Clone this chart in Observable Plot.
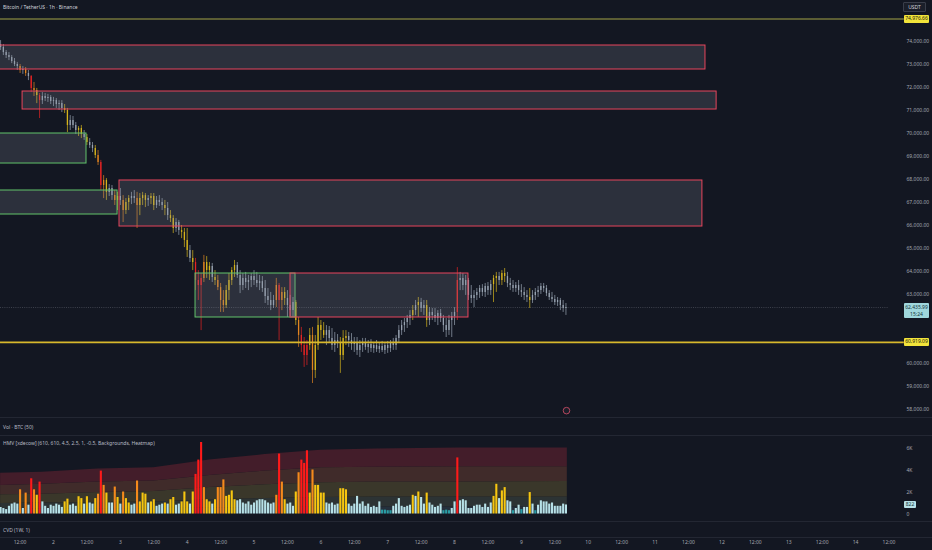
<!DOCTYPE html>
<html><head><meta charset="utf-8">
<script src="https://cdn.jsdelivr.net/npm/d3@7"></script>
<script src="https://cdn.jsdelivr.net/npm/@observablehq/plot@0.6"></script>
<style>
body{margin:0;background:#131722;}
#wrap{position:relative;width:932px;height:550px;background:#131722;overflow:hidden;font-family:"Noto Sans",Roboto,sans-serif;}
.pane{position:absolute;left:0;}
.lbl{position:absolute;font-size:5px;color:#b8bbc4;white-space:nowrap;line-height:1;}
.tag{position:absolute;font-size:5px;line-height:1;white-space:nowrap;text-align:center;border-radius:1px;}
.sep{position:absolute;left:0;width:932px;height:1px;background:#232733;}
</style></head><body><div id="wrap"></div>
<script>
// ---------- DATA ----------
const startHour = 5; // first visible hourly candle (hours since day 1 00:00)
const open = [73870,73740,73520,73390,73300,
73130,73000,72910,72740,72780,72610,72480,71960,71870,71650,
71430,71610,71520,71570,71390,71430,71260,71300,71090,71000,
70350,70570,70350,70130,70220,69960,69830,69610,69480,69350,
69040,68740,67740,67960,67440,67610,67300,67090,67260,67090,
66650,67000,67170,67260,67170,66870,67170,67300,67090,67170,
67260,66870,67090,67000,66870,66740,66430,66300,65870,66130,
65780,65700,65350,64910,64570,64390,63610,63390,63700,64390,
64040,64220,63740,63610,63300,62740,62520,63170,63610,64040,
64260,63830,63390,63700,63520,63610,63780,63610,63480,63560,
63260,62910,62740,62520,62740,63390,62740,63090,62830,62520,
62300,62650,61870,61220,60780,60350,60780,61220,59700,60780,
61650,61430,61220,61430,61090,60780,61000,60870,60350,61090,
61170,61000,60830,60910,60570,60780,60910,60700,60830,60650,
60780,60610,60740,60570,60780,60650,60870,60780,61090,61430,
61650,61780,61960,62090,62300,62520,62650,62390,62520,61870,
62220,62090,61960,62170,61960,61650,61430,61870,62040,62220,
63610,63700,63390,63610,62960,62830,62960,63090,63260,63090,
63350,63170,63430,63700,63780,63610,63910,63780,63480,63390,
63260,63390,63170,63090,62960,62870,62740,62960,63090,63170,
63350,63260,63040,62870,62780,62650,62740,62520,62390];
const high = [74040,73870,73610,73520,73390,
73260,73090,73000,72910,72870,72740,72520,72220,71960,71740,
71780,71740,71700,71650,71570,71520,71430,71430,71260,71090,
70780,70740,70480,70300,70350,70130,69960,69780,69610,69480,
69260,68830,68170,68040,67780,67740,67520,67440,67610,67300,
67170,67300,67440,67520,67440,67390,67440,67390,67300,67390,
67390,67260,67300,67170,67090,67000,66650,66430,66300,66220,
66000,65870,65870,65130,64910,64570,64040,63910,64700,64650,
64390,64350,64040,63830,63480,63170,63390,63910,64170,64480,
64390,64040,63910,63960,63830,63910,64040,63960,63830,63780,
63610,63260,63090,62960,63700,63480,63300,63300,63170,62960,
62870,62740,62000,61570,61130,61000,61520,61570,61220,62000,
61870,61780,61650,61610,61520,61350,61260,61130,61430,61430,
61350,61300,61130,61130,61000,61090,61090,61000,61040,60910,
61000,60870,60960,60910,60960,61000,61090,61220,61650,61870,
61960,62090,62300,62520,62740,62870,62830,62740,62740,62430,
62390,62390,62300,62350,62090,61960,62090,62220,62430,64170,
63960,63910,63830,63700,63390,63170,63260,63390,63430,63480,
63520,63610,63830,63960,63960,64040,64130,63960,63700,63610,
63520,63610,63430,63300,63170,63260,63170,63260,63350,63480,
63480,63390,63170,63090,62960,62870,62830,62740,62610];
const low = [73610,73390,73260,73170,73040,
72910,72740,72610,72570,72480,72300,71780,71610,71300,70650,
71260,71390,71350,71260,71170,71090,71000,70910,70870,70040,
70130,70220,69960,69870,69780,69700,69480,69350,69170,68910,
68610,67520,67170,67090,67260,67090,66870,66650,66870,66130,
66480,66650,66910,66960,65870,66430,66870,66780,66830,66910,
66650,66740,66830,66650,66430,66220,66130,65650,65700,65570,
65430,65040,64610,64390,64040,63170,62740,61430,63520,63700,
63610,63520,63390,63170,62220,62220,62390,62740,63390,63740,
63700,63040,63170,63260,63170,63300,63390,63300,63170,63090,
62610,62520,62300,62390,62430,61000,62300,62520,62000,62040,
62000,61650,60700,60480,59830,59910,60570,59130,59350,60570,
61000,61090,60780,60910,60570,60480,60650,59570,60130,60780,
60700,60570,60480,60350,60260,60480,60570,60440,60480,60440,
60480,60440,60480,60390,60440,60480,60570,60570,60910,61220,
61350,61520,61650,61870,62090,62000,62220,62090,61570,61650,
61870,61780,61650,61780,61350,61130,61220,61130,61650,61870,
63170,63170,62960,62740,62610,62430,62740,62830,62910,62870,
62960,62960,62650,63090,63390,63390,63520,63300,63170,63090,
63090,62960,62870,62740,62650,62390,62610,62740,62870,63000,
63090,62910,62740,62650,62520,62480,62300,62220,62090];
const close = [73740,73520,73390,73300,73130,
73000,72910,72740,72780,72610,72480,71960,71870,71650,71430,
71610,71520,71570,71390,71430,71260,71300,71090,71000,70350,
70570,70350,70130,70220,69960,69830,69610,69480,69350,69040,
68740,67740,67960,67440,67610,67300,67090,67260,67090,66650,
67000,67170,67260,67170,66870,67170,67300,67090,67170,67260,
66870,67090,67000,66870,66740,66430,66300,65870,66130,65780,
65700,65350,64910,64570,64390,63610,63390,63700,64390,64040,
64220,63740,63610,63300,62740,62520,63170,63610,64040,64260,
63830,63390,63700,63520,63610,63780,63610,63480,63560,63260,
62910,62740,62520,62740,63390,62740,63090,62830,62520,62300,
62650,61870,61220,60780,60350,60780,61220,59700,60780,61650,
61430,61220,61430,61090,60780,61000,60870,60350,61090,61170,
61000,60830,60910,60570,60780,60910,60700,60830,60650,60780,
60610,60740,60570,60780,60650,60870,60780,61090,61430,61650,
61780,61960,62090,62300,62520,62650,62390,62520,61870,62220,
62090,61960,62170,61960,61650,61430,61870,62040,62220,63610,
63700,63390,63610,62960,62830,62960,63090,63260,63090,63350,
63170,63430,63700,63780,63610,63910,63780,63480,63390,63260,
63390,63170,63090,62960,62870,62740,62960,63090,63170,63350,
63260,63040,62870,62780,62650,62740,62520,62390,62435.99];
const volume = [600,500,400,700,900,
1000,900,2200,500,1900,800,3200,2200,1700,2900,
1100,700,500,800,700,900,800,600,1100,1350,
800,900,700,1570,1400,900,1570,1000,900,1400,
1800,3900,2600,1900,1000,1000,2450,1500,900,2000,
1400,1000,800,900,3000,1100,1900,1800,1000,1100,
1300,700,800,900,1000,900,1300,1500,800,900,
1100,2000,1100,900,2000,3600,4900,6500,2400,1300,
1100,900,1300,2400,2400,3100,1600,1700,2100,1300,
1200,1300,1000,900,1100,800,1000,1200,1300,1300,
1200,1000,900,1000,1700,5450,2900,1300,900,1000,
700,2000,3750,4900,4600,5750,1900,4000,2600,2600,
1900,1900,1000,900,1000,800,900,2300,2300,2200,
900,700,900,1600,900,1100,700,900,600,700,
600,1100,350,350,300,300,700,900,1400,700,
600,700,800,1700,1600,2000,1500,900,1900,1000,
800,600,700,900,300,350,300,500,1100,5100,
1200,1300,1200,500,500,700,800,800,600,900,
600,1000,1600,2700,1400,2100,2400,1200,1100,300,
500,800,400,600,600,1950,900,300,800,1200,
1100,1100,900,1000,700,700,700,900,822];
// heatmap class per bar: L low, N normal, M medium, H high, X extra high
const volClass = "NNNNNNNHNHNXHMX" + "NNNNNNNNMM" +
 "NNNMMNMNNM" + "HXHMNNHMNH" + "MMNNHMMMNM" + "MNNNMNMMNN" + "MMMNMXXXHM" + "MNMHHHMMMM" +
 "NNNNNNNNNN" + "NNNNHXHMNN" + "NMHXXXMHMM" + "MMNNNNNMMM" + "NNNNNNNNNN" + "NNLLLLNNNN" +
 "NNNMNMNNMN" + "NNNNLLLNNX" + "NNNNNNNNNN" + "NNMMNMMNNL" + "NNLNNMNLNN" + "NNNNNNNNN";

// supply / demand zones
const zoneStartHour = [0, 12.9, 0, 0, 47.7, 75, 109.1];
const zoneEndHour   = [258.1, 262.1, 35.85, 47.0, 257.0, 110.9, 173.0];
const zoneTop       = [73826, 71826, 70000, 67522, 67957, 63913, 63913];
const zoneBottom    = [72783, 71043, 68695, 66478, 65956, 62000, 62000];
const zoneType      = ["supply","supply","demand","demand","supply","demand","supply"];

const levelPrices = [74976.66, 60919.09];
const levelLabels = ["74,976.66", "60,919.09"];
const lastPrice = 62435.99, lastPriceLabel = "62,435.99", lastCountdown = "15:24";
const lastVolume = 822, lastVolumeLabel = "822";
const eventHour = [208.2], eventPrice = [57950];

const priceTicks = [58000,59000,60000,61000,62000,63000,64000,65000,66000,67000,68000,69000,70000,71000,72000,73000,74000];
const volTicks = [0, 2000, 4000, 6000];
const volTickLabels = ["0", "2K", "4K", "6K"];
const timeTickHours = [12,24,36,48,60,72,84,96,108,120,132,144,156,168,180,192,204,216,228,240,252,264,276,288,300,312,324];
const timeTickLabels = ["12:00","2","12:00","3","12:00","4","12:00","5","12:00","6","12:00","7","12:00","8","12:00","9","12:00","10","12:00","11","12:00","12","12:00","13","12:00","14","12:00"];

// HMV background thresholds sampled along time
const bandHours = [5, 20, 40, 60, 80, 100, 120, 140, 170, 208.5];
const bandT0 = [450, 450, 480, 500, 550, 580, 620, 640, 640, 650];
const bandT1 = [950, 1000, 1050, 1100, 1300, 1400, 1500, 1550, 1550, 1550];
const bandT2 = [1750, 1800, 1950, 2050, 2400, 2650, 2850, 2900, 2900, 2950];
const bandT3 = [2600, 2700, 2900, 3000, 3500, 3900, 4200, 4250, 4300, 4300];
const bandT4 = [3700, 3800, 4100, 4200, 4900, 5400, 5800, 5900, 6000, 6000];

// ---------- STYLE ----------
const candleColor = {L:"#98a3b1", N:"#98a3b1", M:"#d6b41c", H:"#e2841f", X:"#e82424"};
const barColor    = {L:"#2a9ea6", N:"#b7e1e7", M:"#f7c610", H:"#f58a1c", X:"#ff1a1a"};
const bandFill = ["#25303c", "#2c3334", "#3a372a", "#402b2a", "#431d2a"];
const fontFamily = '"Noto Sans", Roboto, sans-serif';
const xDomain = [4.97, 323.82];

// ---------- BUILD ----------
const candles = close.map((c, i) => ({h: startHour + i, o: open[i], hi: high[i], lo: low[i], c, v: volume[i], k: volClass[i]}));
const zones = zoneTop.map((t, i) => ({x1: zoneStartHour[i], x2: zoneEndHour[i], top: t, bottom: zoneBottom[i], type: zoneType[i]}));
const T = [bandT0, bandT1, bandT2, bandT3, bandT4];
const bandRows = [];
T.forEach((arr, b) => bandHours.forEach((h, i) => bandRows.push({band: b, h, lo: b === 0 ? 0 : T[b-1][i], hi: arr[i], fill: bandFill[b]})));
const volLabelMap = new Map(volTicks.map((d, i) => [d, volTickLabels[i]]));
const timeLabelMap = new Map(timeTickHours.map((d, i) => [d, timeTickLabels[i]]));

const wrap = document.getElementById("wrap");
const styleBase = {background: "transparent", color: "#a3a6af", fontFamily, fontSize: "5px", overflow: "visible"};
const priceDomain = [57652, 75783];
// price-axis labels hidden behind the right-hand price tags
const yTmp = d3.scaleLinear(priceDomain, [417, 0]);
const tagPrices = [...levelPrices, lastPrice];
const shownPriceTicks = priceTicks.filter(t => tagPrices.every(p => { const dy = yTmp(t) - yTmp(p); return dy < -6 || dy > (p === lastPrice ? 13 : 6); }));

const pricePlot = Plot.plot({
  width: 932, height: 417, marginLeft: 0, marginRight: 44, marginTop: 0, marginBottom: 0,
  style: styleBase,
  color: {type: "identity"},
  x: {domain: xDomain, axis: null},
  y: {domain: priceDomain, axis: null},
  marks: [
    Plot.ruleY([lastPrice], {stroke: "#50545f", strokeWidth: 0.7, strokeDasharray: "1,1.2"}),
    Plot.ruleX(candles, {x: "h", y1: "lo", y2: "hi", stroke: d => candleColor[d.k], strokeWidth: 0.7}),
    Plot.ruleX(candles, {x: "h", y1: "o", y2: "c", stroke: d => candleColor[d.k], strokeWidth: 1.3}),
    Plot.rect(zones, {x1: "x1", x2: "x2", y1: "bottom", y2: "top", fill: "#8a8e99", fillOpacity: 0.22,
      stroke: d => d.type === "supply" ? "#e8455c" : "#62c46b", strokeWidth: 1, clip: true}),
    Plot.ruleY([levelPrices[0]], {x1: 0, x2: 329.5, stroke: "#a3a347", strokeWidth: 1.1}),
    Plot.ruleY([levelPrices[1]], {x1: 0, x2: 329.5, stroke: "#d8b82c", strokeWidth: 1.8}),
    Plot.dot(eventHour.map((h, i) => ({h, p: eventPrice[i]})), {x: "h", y: "p", r: 3.3, stroke: "#d9506b", strokeWidth: 0.8, fill: "#1a1e29"}),
    Plot.axisY({anchor: "right", ticks: shownPriceTicks, tickFormat: d3.format(",.2f"), tickSize: 0, tickPadding: 18, fontSize: 5})
  ]
});
pricePlot.classList.add("pane");
pricePlot.style.top = "0px";
wrap.appendChild(pricePlot);

const volPlot = Plot.plot({
  width: 932, height: 85, marginLeft: 0, marginRight: 44, marginTop: 0, marginBottom: 0,
  style: styleBase,
  color: {type: "identity"},
  x: {domain: xDomain, axis: null},
  y: {domain: [-682, 7045], axis: null},
  marks: [
    Plot.areaY(bandRows, {x: "h", y1: "lo", y2: "hi", z: "band", fill: "fill"}),
    Plot.ruleX(candles, {x: "h", y1: 0, y2: "v", stroke: d => barColor[d.k], strokeWidth: 2.1}),
    Plot.axisY({anchor: "right", ticks: volTicks, tickFormat: d => volLabelMap.get(d), tickSize: 0, tickPadding: 18, fontSize: 5})
  ]
});
volPlot.classList.add("pane");
volPlot.style.top = "436px";
wrap.appendChild(volPlot);

const timePlot = Plot.plot({
  width: 932, height: 29, marginLeft: 0, marginRight: 44, marginTop: 0, marginBottom: 13,
  style: styleBase,
  x: {domain: xDomain},
  y: {axis: null},
  marks: [
    Plot.axisX({anchor: "bottom", ticks: timeTickHours, tickFormat: d => timeLabelMap.get(d), tickSize: 0, tickPadding: 3, fontSize: 5, label: null})
  ]
});
timePlot.classList.add("pane");
timePlot.style.top = "521px";
wrap.appendChild(timePlot);

// separators
[417, 435, 521, 537].forEach(y => { const s = document.createElement("div"); s.className = "sep"; s.style.top = y + "px"; wrap.appendChild(s); });

function label(text, left, top, color) {
  const d = document.createElement("div"); d.className = "lbl"; d.textContent = text;
  d.style.left = left + "px"; d.style.top = top + "px"; if (color) d.style.color = color; wrap.appendChild(d); return d;
}
label("Bitcoin / TetherUS · 1h · Binance", 3, 4.5, "#d1d4dc");
label("Vol · BTC (50)", 3, 424.5);
label("HMV [xdecow] (610, 610, 4.5, 2.5, 1, -0.5, Backgrounds, Heatmap)", 3, 440.5);
label("CVD (1W, 1)", 3, 527.5);

function tag(html, left, top, w, h, bg, fg, border) {
  const d = document.createElement("div"); d.className = "tag"; d.innerHTML = html;
  Object.assign(d.style, {left: left + "px", top: top + "px", width: w + "px", height: h + "px", background: bg, color: fg,
    paddingTop: "1.5px", boxSizing: "border-box"});
  if (border) d.style.border = border;
  wrap.appendChild(d); return d;
}
tag("USDT", 903, 2, 23, 10, "#1b1f2a", "#d1d4dc", "0.6px solid #3a3e4a").style.paddingTop = "2px";
const yP = pricePlot.scale("y");
levelPrices.forEach((p, i) => tag(levelLabels[i], 904, yP.apply(p) - 4, 25, 8, "#f2e43a", "#1a1a10"));
tag(lastPriceLabel + "<br>" + lastCountdown, 904, yP.apply(lastPrice) - 4, 25, 15, "#9fd7dc", "#16353a").style.lineHeight = "1.3";
const yV = volPlot.scale("y");
tag(lastVolumeLabel, 904, 436 + yV.apply(lastVolume) - 3.5, 12, 7, "#b7e1e7", "#16353a").style.paddingTop = "1px";
</script></body></html>
